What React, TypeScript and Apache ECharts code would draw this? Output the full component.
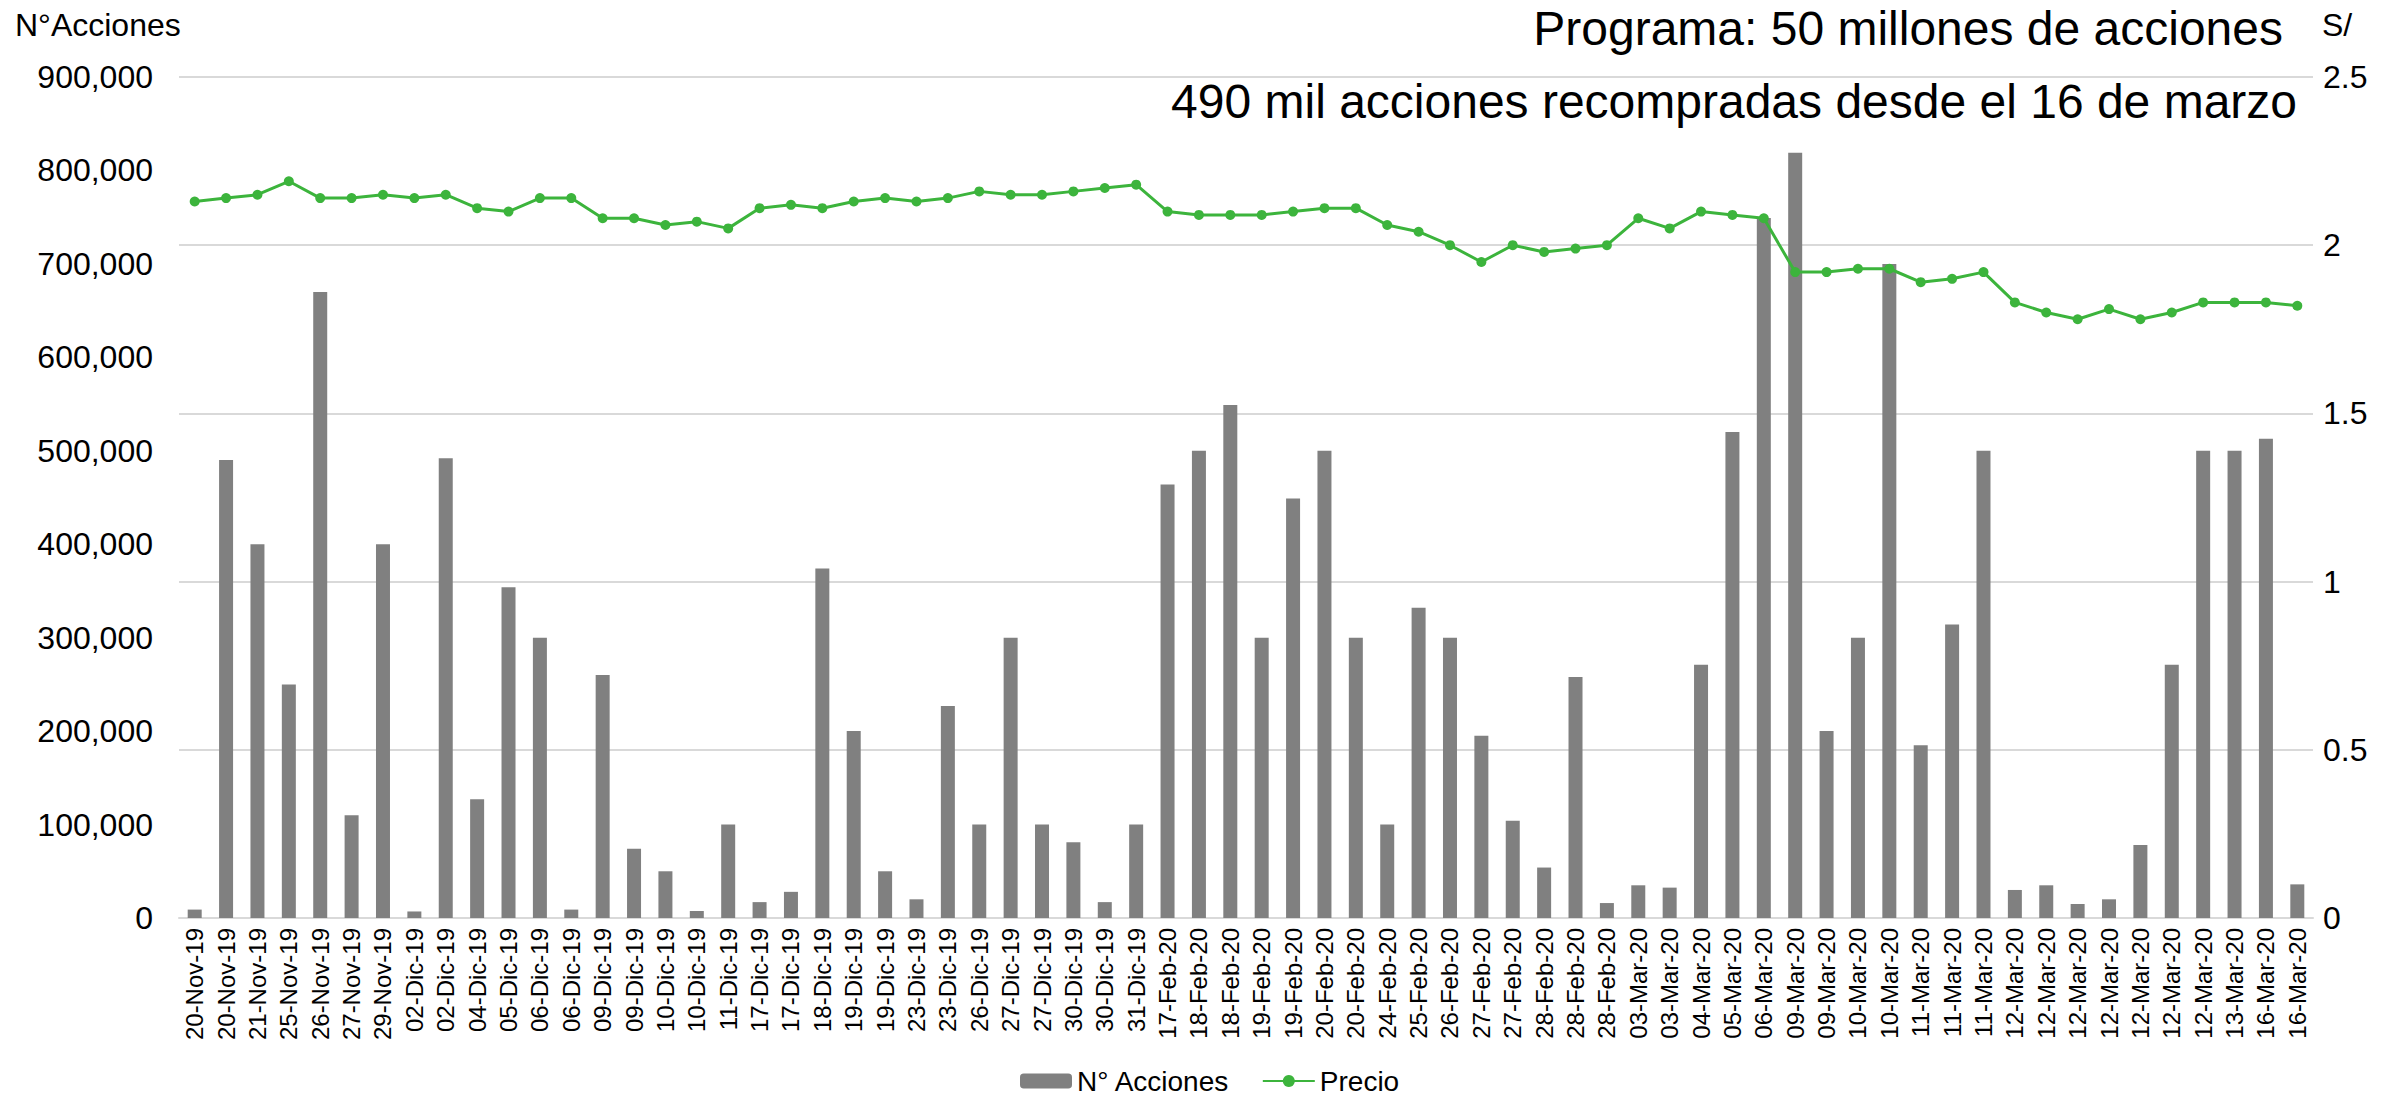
import React, { useEffect, useRef } from "react";
import * as echarts from "echarts";

const categories = [
  "20-Nov-19", "20-Nov-19", "21-Nov-19", "25-Nov-19", "26-Nov-19", "27-Nov-19", "29-Nov-19",
  "02-Dic-19", "02-Dic-19", "04-Dic-19", "05-Dic-19", "06-Dic-19", "06-Dic-19", "09-Dic-19",
  "09-Dic-19", "10-Dic-19", "10-Dic-19", "11-Dic-19", "17-Dic-19", "17-Dic-19", "18-Dic-19",
  "19-Dic-19", "19-Dic-19", "23-Dic-19", "23-Dic-19", "26-Dic-19", "27-Dic-19", "27-Dic-19",
  "30-Dic-19", "30-Dic-19", "31-Dic-19", "17-Feb-20", "18-Feb-20", "18-Feb-20", "19-Feb-20",
  "19-Feb-20", "20-Feb-20", "20-Feb-20", "24-Feb-20", "25-Feb-20", "26-Feb-20", "27-Feb-20",
  "27-Feb-20", "28-Feb-20", "28-Feb-20", "28-Feb-20", "03-Mar-20", "03-Mar-20", "04-Mar-20",
  "05-Mar-20", "06-Mar-20", "09-Mar-20", "09-Mar-20", "10-Mar-20", "10-Mar-20", "11-Mar-20",
  "11-Mar-20", "11-Mar-20", "12-Mar-20", "12-Mar-20", "12-Mar-20", "12-Mar-20", "12-Mar-20",
  "12-Mar-20", "12-Mar-20", "13-Mar-20", "16-Mar-20", "16-Mar-20",
];

const acciones = [
  9000, 490000, 400000, 250000, 670000, 110000, 400000,
  7000, 492000, 127000, 354000, 300000, 9000, 260000,
  74000, 50000, 7500, 100000, 17000, 28000, 374000,
  200000, 50000, 20000, 227000, 100000, 300000, 100000,
  81000, 17000, 100000, 464000, 500000, 549000, 300000,
  449000, 500000, 300000, 100000, 332000, 300000, 195000,
  104000, 54000, 258000, 16000, 35000, 32500, 271000,
  520000, 749000, 819000, 200000, 300000, 700000, 185000,
  314000, 500000, 30000, 35000, 15000, 20000, 78000,
  271000, 500000, 500000, 513000, 36000,
];

const precio = [
  2.13, 2.14, 2.15, 2.19, 2.14, 2.14, 2.15,
  2.14, 2.15, 2.11, 2.10, 2.14, 2.14, 2.08,
  2.08, 2.06, 2.07, 2.05, 2.11, 2.12, 2.11,
  2.13, 2.14, 2.13, 2.14, 2.16, 2.15, 2.15,
  2.16, 2.17, 2.18, 2.10, 2.09, 2.09, 2.09,
  2.10, 2.11, 2.11, 2.06, 2.04, 2.00, 1.95,
  2.00, 1.98, 1.99, 2.00, 2.08, 2.05, 2.10,
  2.09, 2.08, 1.92, 1.92, 1.93, 1.93, 1.89,
  1.90, 1.92, 1.83, 1.80, 1.78, 1.81, 1.78,
  1.80, 1.83, 1.83, 1.83, 1.82,
];

const titleLine1 = "Programa: 50 millones de acciones";
const titleLine2 = "490 mil acciones recompradas desde el 16 de marzo";
const leftAxisName = "N°Acciones";
const rightAxisName = "S/";
const seriesNames = ["N° Acciones", "Precio"];

const FONT = "'Liberation Sans', Arial, sans-serif";

export default function App() {
  const ref = useRef<HTMLDivElement>(null);
  useEffect(() => {
    if (!ref.current) return;
    const chart = echarts.init(ref.current, null, { renderer: "svg" });
    chart.setOption({
      animation: false,
      backgroundColor: "#ffffff",
      textStyle: { fontFamily: FONT, color: "#000" },
      grid: { left: 179, right: 93, top: 77, bottom: 180, containLabel: false },
      legend: {
        data: seriesNames,
        left: 1020,
        top: 1066,
        padding: 0,
        itemWidth: 52,
        itemHeight: 15,
        itemGap: 32,
        textStyle: { fontSize: 28, color: "#000", fontFamily: FONT, lineHeight: 30 },
      },
      xAxis: {
        type: "category",
        data: categories,
        axisLine: { show: true, lineStyle: { color: "#D9D9D9", width: 2 } },
        axisTick: { show: false },
        axisLabel: {
          interval: 0,
          rotate: 90,
          fontSize: 24,
          color: "#000",
          margin: 10,
          fontFamily: FONT,
        },
      },
      yAxis: [
        {
          type: "value",
          min: 0,
          max: 900000,
          interval: 100000,
          axisLine: { show: false },
          axisTick: { show: false },
          splitLine: { show: false },
          axisLabel: {
            fontSize: 32,
            color: "#000",
            margin: 26,
            fontFamily: FONT,
            formatter: (v: number) => v.toLocaleString("en-US"),
          },
        },
        {
          type: "value",
          min: 0,
          max: 2.5,
          interval: 0.5,
          position: "right",
          axisLine: { show: false },
          axisTick: { show: false },
          splitLine: { show: true, lineStyle: { color: "#D9D9D9", width: 2 } },
          axisLabel: {
            fontSize: 32,
            color: "#000",
            margin: 10,
            fontFamily: FONT,
          },
        },
      ],
      series: [
        {
          name: seriesNames[0],
          type: "bar",
          yAxisIndex: 0,
          data: acciones,
          barWidth: 14,
          itemStyle: { color: "#808080" },
        },
        {
          name: seriesNames[1],
          type: "line",
          yAxisIndex: 1,
          data: precio,
          symbol: "circle",
          symbolSize: 10,
          lineStyle: { color: "#3CB43C", width: 3 },
          itemStyle: { color: "#3CB43C" },
          z: 5,
        },
      ],
      graphic: [
        {
          type: "text",
          x: 15,
          y: 25,
          style: {
            text: leftAxisName,
            font: `32px ${FONT}`,
            fill: "#000",
            textAlign: "left",
            textVerticalAlign: "middle",
          },
        },
        {
          type: "text",
          x: 2322,
          y: 25,
          style: {
            text: rightAxisName,
            font: `32px ${FONT}`,
            fill: "#000",
            textAlign: "left",
            textVerticalAlign: "middle",
          },
        },
        {
          type: "text",
          x: 2283,
          y: 28,
          style: {
            text: titleLine1,
            font: `48px ${FONT}`,
            fill: "#000",
            textAlign: "right",
            textVerticalAlign: "middle",
          },
        },
        {
          type: "text",
          x: 2297,
          y: 101,
          style: {
            text: titleLine2,
            font: `48px ${FONT}`,
            fill: "#000",
            textAlign: "right",
            textVerticalAlign: "middle",
          },
        },
      ],
    });
    return () => chart.dispose();
  }, []);
  return (
    <div
      ref={ref}
      style={{ position: "fixed", left: 0, top: 0, width: 2406, height: 1098 }}
    />
  );
}
